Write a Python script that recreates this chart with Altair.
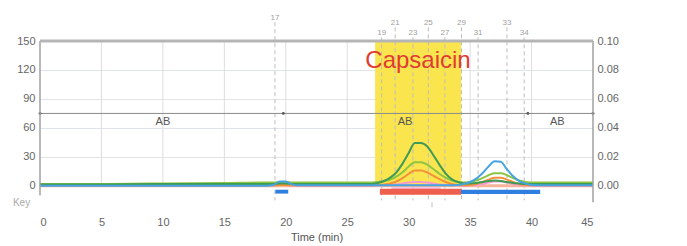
import altair as alt
import pandas as pd

# ---------------- data ----------------
times = [0, 5, 10, 15, 18, 19, 19.5, 20, 20.5, 21, 25, 27, 27.5, 28, 28.5, 29, 29.5, 30, 30.5, 31,
         31.5, 32, 32.5, 33, 33.5, 34, 34.5, 35, 35.5, 36, 36.5, 37, 37.5, 38, 38.5, 39, 39.5, 40, 41, 45]

dark_green = [1.5, 1.5, 2, 2, 2, 2, 2.5, 2.5, 2, 2, 2, 2, 3, 5, 8.5, 14, 23, 34, 44.5, 44.5,
              41, 32, 22, 13, 7, 4, 2.5, 2.5, 3, 4, 5, 5.5, 5, 4, 3, 2.5, 2, 2, 2, 2]
lime = [2, 2, 2.5, 3, 3.5, 3.5, 4, 4, 3.5, 3.5, 3.5, 3.5, 4, 5, 6.5, 9.5, 14, 20, 24.5, 24.5,
        22, 17.5, 12.5, 8.5, 5.5, 4, 3.5, 4, 5.5, 8, 11, 13, 13, 11, 8, 5.5, 4, 3.5, 3.5, 3.5]
orange = [0.5, 0.5, 0.5, 0.5, 0.5, 0.5, 1, 1, 0.5, 0.5, 0.5, 0.5, 1, 1.5, 2.5, 4.5, 8, 12.5, 16, 16,
          14, 10.5, 7, 4, 2, 1, 0.5, 1, 2, 4, 6.5, 8.5, 8.5, 6.5, 4, 2, 1, 0.5, 0.5, 0.5]
pink = [0, 0, 0, 0, 0, 0, 1.5, 1.5, 0.5, 0, 0, 0, 0.5, 0.5, 1, 1.5, 2.5, 3.5, 4, 4,
        3.5, 2.5, 1.5, 1, 0.5, 0.5, 0, 0.5, 1, 2, 3.5, 4.5, 4.5, 3.5, 2, 1, 0.5, 0, 0, 0]
blue = [0, 0, 0, 0, 0, 1, 4.5, 4.5, 1.5, 0.5, 0.5, 0.5, 0.5, 0.5, 0.5, 0.5, 0.5, 0.5, 0.5, 0.5,
        0.5, 0.5, 0.5, 0.5, 0.5, 1, 2, 4, 7.5, 13, 20, 25.5, 25, 17, 10, 5, 2.5, 1, 0.5, 0.5]

series_names = ["pink", "orange", "lime", "dark_green", "blue"]
series_values = [pink, orange, lime, dark_green, blue]
series_colors = ["#f59ad0", "#f2913a", "#8cc540", "#3f9a55", "#45a3e0"]

fraction_labels = ["17", "19", "21", "23", "25", "27", "29", "31", "33", "34"]
fraction_times = [19.12, 27.8, 28.9, 30.35, 31.6, 32.95, 34.3, 35.65, 38.0, 39.4]
fraction_rows = ["top", "low", "high", "low", "high", "low", "high", "low", "high", "low"]

bar_start = [19.15, 27.66, 34.26]
bar_end = [20.2, 34.26, 40.7]
bar_top = [-4, -3, -4]
bar_bottom = [-8, -9.3, -8.5]
bar_colors = ["#2f7fe0", "#ef5f4e", "#2f7fe0"]

pink_strip = {"x": [28.6], "x2": [32.6], "y": [-1.8], "y2": [-3]}

region_start, region_end = [27.27], [34.27]
ab_label_times = [10.0, 29.7, 42.1]
ab_marker_times = [0, 19.8, 39.7, 45]
x_ticks = [0, 5, 10, 15, 20, 25, 30, 35, 40, 45]
y_ticks = [0, 30, 60, 90, 120, 150]

# ---------------- build ----------------
rows = []
for name, vals in zip(series_names, series_values):
    for t, v in zip(times, vals):
        rows.append({"t": t, "v": v, "s": name})
lines_df = pd.DataFrame(rows)

row_y = {"top": 174, "high": 168.7, "low": 158.3}
frac_df = pd.DataFrame({
    "t": fraction_times,
    "label": fraction_labels,
    "ly": [row_y[r] for r in fraction_rows],
    "top": [row_y[r] - 4.5 for r in fraction_rows],
    "bot": [-15] * len(fraction_times),
})

xscale = alt.Scale(domain=[0, 45], nice=False, zero=False)
yscale = alt.Scale(domain=[-25, 150], nice=False, zero=False)
FONT = "Liberation Sans"


def X(f, axis=None):
    return alt.X(f, type="quantitative", scale=xscale, axis=axis)


def Y(f, axis=None):
    return alt.Y(f, type="quantitative", scale=yscale, axis=axis)


# vertical grid
vgrid = alt.Chart(pd.DataFrame({"t": x_ticks[1:-1], "y0": [0] * 8, "y1": [150] * 8})).mark_rule(
    color="#dedede", strokeWidth=1
).encode(
    x=X("t", alt.Axis(values=x_ticks, title="Time (min)", grid=False, domain=False, ticks=False,
                      labelFontSize=11, labelColor="#666", labelPadding=6, labelFont=FONT,
                      titleFont=FONT, titleFontSize=11, titleFontWeight="normal", titleColor="#555",
                      titlePadding=4, format="d")),
    y=Y("y0", alt.Axis(values=y_ticks, grid=True, gridColor="#e0e4e8", domain=False, ticks=False,
                       labelFontSize=11, labelColor="#666", labelPadding=5, labelFont=FONT, title=None)),
    y2="y1",
)

yellow = alt.Chart(pd.DataFrame({"a": region_start, "b": region_end, "y0": [0], "y1": [150]})).mark_rect(
    color="#fbe54e"
).encode(x=X("a"), x2="b", y=Y("y0"), y2="y1")

dashed = alt.Chart(frac_df).mark_rule(color="#bdbdbd", strokeDash=[4, 3], strokeWidth=1).encode(
    x=X("t"), y=Y("top"), y2="bot"
)
frac_text = alt.Chart(frac_df).mark_text(fontSize=8, color="#a0a0a0", font=FONT, baseline="middle").encode(
    x=X("t"), y=Y("ly"), text="label"
)

ab_rule = alt.Chart(pd.DataFrame({"a": [0], "b": [45], "y": [75]})).mark_rule(
    color="#8a8a8a", strokeWidth=1
).encode(x=X("a"), x2="b", y=Y("y"))
ab_marks = alt.Chart(pd.DataFrame({"t": ab_marker_times, "y": [75] * 4})).mark_point(
    filled=True, size=8, color="#555", opacity=1
).encode(x=X("t"), y=Y("y"))
ab_text = alt.Chart(pd.DataFrame({"t": ab_label_times, "y": [66] * 3, "label": ["AB"] * 3})).mark_text(
    fontSize=11, color="#555", font=FONT
).encode(x=X("t"), y=Y("y"), text="label")

baseline = alt.Chart(pd.DataFrame({"a": [0], "b": [45], "y": [0]})).mark_rule(
    color="#f6b49a", strokeWidth=3
).encode(x=X("a"), x2="b", y=Y("y"))

lines = alt.Chart(lines_df).mark_line(strokeWidth=2, interpolate="monotone").encode(
    x=X("t"), y=Y("v"),
    color=alt.Color("s:N", scale=alt.Scale(domain=series_names, range=series_colors), legend=None),
    detail="s:N",
)

bars = alt.Chart(pd.DataFrame({"a": bar_start, "b": bar_end, "y0": bar_top, "y1": bar_bottom,
                               "c": bar_colors})).mark_rect().encode(
    x=X("a"), x2="b", y=Y("y0"), y2="y1", color=alt.Color("c:N", scale=None)
)
strip = alt.Chart(pd.DataFrame(pink_strip)).mark_rect(color="#f2a0d8").encode(
    x=X("x"), x2="x2", y=Y("y"), y2="y2"
)
small_tick = alt.Chart(pd.DataFrame({"t": [31.9], "a": [-17], "b": [-22]})).mark_rule(
    color="#bbb").encode(x=X("t"), y=Y("a"), y2="b")

left_axis = alt.Chart(pd.DataFrame({"t": [0], "a": [-10], "b": [150]})).mark_rule(
    color="#a0a0a0", strokeWidth=1.5).encode(x=X("t"), y=Y("a"), y2="b")
right_axis = alt.Chart(pd.DataFrame({"t": [45], "a": [-17], "b": [150]})).mark_rule(
    color="#a0a0a0", strokeWidth=1.5).encode(
    x=X("t"),
    y=Y("a", alt.Axis(orient="right", values=y_ticks, grid=False, domain=False, ticks=False,
                      labelFontSize=11, labelColor="#666", labelPadding=4, labelFont=FONT, title=None,
                      labelExpr="format(datum.value / 1500, '.2f')")),
    y2="b",
)
top_border = alt.Chart(pd.DataFrame({"a": [0], "b": [45], "y": [150]})).mark_rule(
    color="#b5b5b5", strokeWidth=3).encode(x=X("a"), x2="b", y=Y("y"))

key_text = alt.Chart(pd.DataFrame({"t": [-0.8], "y": [-18], "label": ["Key"]})).mark_text(
    fontSize=10, color="#aaa", font=FONT, align="right"
).encode(x=X("t"), y=Y("y"), text="label")

caps = alt.Chart(pd.DataFrame({"t": [30.76], "y": [129], "label": ["Capsaicin"]})).mark_text(
    fontSize=24, color="#e03c31", font=FONT, baseline="middle"
).encode(x=X("t"), y=Y("y"), text="label")

chart = alt.layer(
    vgrid, yellow, dashed, frac_text, ab_rule, ab_marks, ab_text, baseline, lines, strip, bars,
    small_tick, left_axis, right_axis, top_border, key_text, caps
).resolve_axis(x="independent", y="independent").properties(
    width=553, height=169,
    autosize=alt.AutoSizeParams(type="none"),
    padding={"left": 32, "top": 33, "right": 50, "bottom": 34},
).configure_view(stroke=None)

chart.save("out.html", embed_options={"renderer": "svg", "actions": False})
